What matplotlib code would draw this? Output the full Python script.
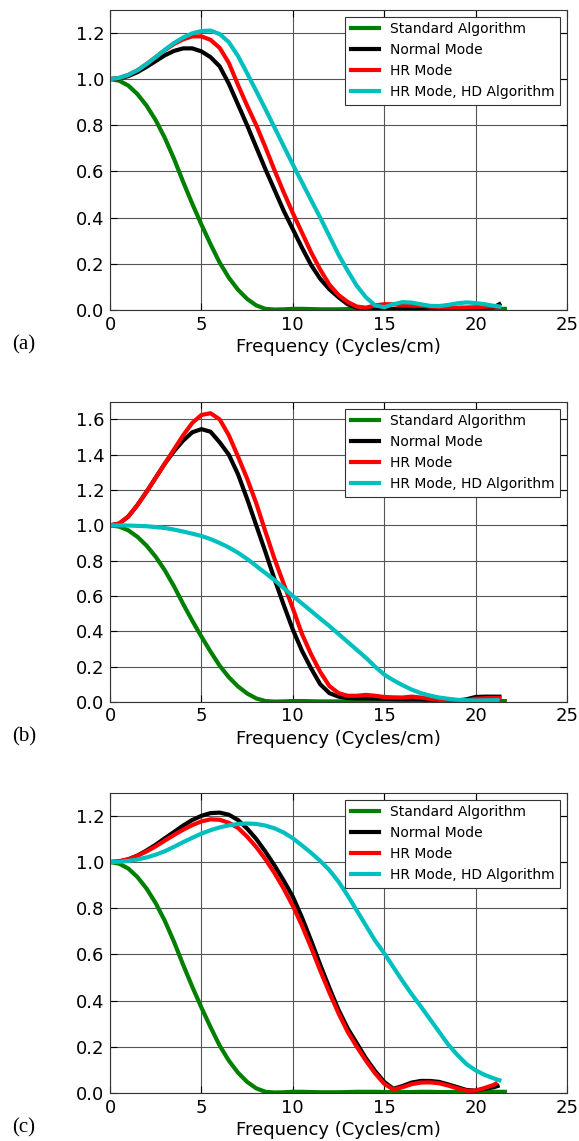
import matplotlib
matplotlib.use("Agg")
import matplotlib.pyplot as plt
from matplotlib.ticker import FormatStrFormatter

# sample grid, cycles/cm
freq = [0, 0.5, 1, 1.5, 2, 2.5, 3, 3.5, 4, 4.5,
        5, 5.5, 6, 6.5, 7, 7.5, 8, 8.5, 9, 9.5,
        10, 10.5, 11, 11.5, 12, 12.5, 13, 13.5, 14, 14.5,
        15, 15.5, 16, 16.5, 17, 17.5, 18, 18.5, 19, 19.5,
        20, 20.5, 21]

labels = ["Standard Algorithm", "Normal Mode", "HR Mode", "HR Mode, HD Algorithm"]
colors = ["#007f00", "black", "#ff0000", "#00bfbf"]

# standard algorithm (same in all three panels)
std_y = [1.0, 0.993, 0.972, 0.935, 0.885, 0.822, 0.745, 0.655, 0.555, 0.46,
         0.37, 0.285, 0.205, 0.14, 0.088, 0.048, 0.02, 0.005, 0.002, 0.003,
         0.005, 0.005, 0.004, 0.003, 0.003, 0.003, 0.004, 0.005, 0.005, 0.005,
         0.004, 0.004, 0.004, 0.004, 0.005, 0.005, 0.004, 0.004, 0.004, 0.004,
         0.005, 0.005, 0.005]
std_end = (21.6, 0.005)

# panel (a)
a_normal = [1.0, 1.003, 1.013, 1.03, 1.053, 1.078, 1.103, 1.122, 1.133, 1.133,
            1.12, 1.095, 1.055, 0.98, 0.89, 0.8, 0.705, 0.61, 0.52, 0.43,
            0.35, 0.27, 0.195, 0.135, 0.09, 0.055, 0.025, 0.01, 0.005, 0.004,
            0.004, 0.004, 0.005, 0.006, 0.006, 0.006, 0.005, 0.004, 0.004, 0.005,
            0.006, 0.009, 0.012]
a_normal_end = (21.3, 0.025)
a_hr = [1.0, 1.005, 1.018, 1.038, 1.065, 1.095, 1.125, 1.152, 1.172, 1.185,
        1.185, 1.17, 1.135, 1.07, 0.975, 0.885, 0.8, 0.705, 0.605, 0.51,
        0.42, 0.335, 0.25, 0.175, 0.11, 0.065, 0.035, 0.015, 0.01, 0.02,
        0.025, 0.025, 0.02, 0.019, 0.018, 0.015, 0.012, 0.011, 0.01, 0.011,
        0.012, 0.014, 0.015]
a_hr_end = (21.2, 0.015)
a_hd = [1.0, 1.005, 1.018, 1.038, 1.065, 1.095, 1.127, 1.156, 1.18, 1.198,
        1.208, 1.21, 1.195, 1.16, 1.1, 1.025, 0.948, 0.87, 0.79, 0.71,
        0.63, 0.553, 0.476, 0.4, 0.32, 0.24, 0.17, 0.105, 0.055, 0.02,
        0.012, 0.025, 0.034, 0.032, 0.025, 0.018, 0.017, 0.022, 0.029, 0.033,
        0.03, 0.025, 0.018]
a_hd_end = (21.3, 0.015)

# panel (b)
b_normal = [1.0, 1.01, 1.05, 1.115, 1.19, 1.27, 1.35, 1.42, 1.48, 1.527,
            1.545, 1.53, 1.47, 1.4, 1.29, 1.15, 1.0, 0.85, 0.695, 0.55,
            0.41, 0.29, 0.19, 0.1, 0.05, 0.03, 0.022, 0.02, 0.02, 0.019,
            0.018, 0.016, 0.015, 0.015, 0.015, 0.012, 0.01, 0.009, 0.008, 0.015,
            0.028, 0.03, 0.03]
b_normal_end = (21.3, 0.03)
b_hr = [1.0, 1.01, 1.05, 1.115, 1.19, 1.27, 1.35, 1.43, 1.51, 1.58,
        1.625, 1.635, 1.6, 1.51, 1.39, 1.265, 1.125, 0.965, 0.81, 0.67,
        0.53, 0.385, 0.27, 0.17, 0.09, 0.05, 0.035, 0.035, 0.04, 0.035,
        0.028, 0.026, 0.025, 0.03, 0.025, 0.018, 0.012, 0.008, 0.005, 0.008,
        0.018, 0.021, 0.022]
b_hr_end = (21.3, 0.022)
b_hd = [1.0, 1.0, 0.999, 0.997, 0.995, 0.99, 0.985, 0.976, 0.965, 0.953,
        0.94, 0.922, 0.9, 0.875, 0.845, 0.81, 0.77, 0.73, 0.69, 0.645,
        0.6, 0.558, 0.515, 0.472, 0.43, 0.385, 0.34, 0.295, 0.25, 0.2,
        0.155, 0.123, 0.095, 0.07, 0.05, 0.036, 0.025, 0.018, 0.012, 0.01,
        0.008, 0.009, 0.01]
b_hd_end = (21.2, 0.01)

# panel (c)
c_normal = [1.0, 1.003, 1.012, 1.028, 1.05, 1.075, 1.103, 1.13, 1.158, 1.182,
            1.2, 1.212, 1.214, 1.205, 1.182, 1.145, 1.1, 1.045, 0.985, 0.92,
            0.85, 0.76, 0.66, 0.555, 0.455, 0.36, 0.28, 0.215, 0.15, 0.095,
            0.048, 0.018, 0.03, 0.045, 0.052, 0.052, 0.048, 0.037, 0.025, 0.013,
            0.01, 0.018, 0.025]
c_normal_end = (21.2, 0.03)
c_hr = [1.0, 1.003, 1.012, 1.027, 1.046, 1.068, 1.093, 1.117, 1.14, 1.16,
        1.176, 1.185, 1.183, 1.17, 1.148, 1.11, 1.065, 1.012, 0.952, 0.885,
        0.81, 0.725, 0.63, 0.53, 0.435, 0.345, 0.265, 0.2, 0.14, 0.085,
        0.04, 0.015, 0.025, 0.038, 0.045, 0.046, 0.042, 0.032, 0.02, 0.01,
        0.01, 0.022, 0.035]
c_hr_end = (21.1, 0.04)
c_hd = [1.0, 1.001, 1.005, 1.011, 1.02, 1.032, 1.047, 1.066, 1.086, 1.105,
        1.123, 1.138, 1.15, 1.159, 1.165, 1.167, 1.165, 1.158, 1.146, 1.128,
        1.103, 1.072, 1.04, 1.005, 0.965, 0.915, 0.855, 0.79, 0.725, 0.66,
        0.605, 0.545, 0.485, 0.428, 0.375, 0.32, 0.265, 0.21, 0.165, 0.125,
        0.098, 0.078, 0.063]
c_hd_end = (21.3, 0.055)

panels = [
    ("(a)", 1.3, [0.0, 0.2, 0.4, 0.6, 0.8, 1.0, 1.2],
     [(std_y, std_end), (a_normal, a_normal_end), (a_hr, a_hr_end), (a_hd, a_hd_end)]),
    ("(b)", 1.7, [0.0, 0.2, 0.4, 0.6, 0.8, 1.0, 1.2, 1.4, 1.6],
     [(std_y, std_end), (b_normal, b_normal_end), (b_hr, b_hr_end), (b_hd, b_hd_end)]),
    ("(c)", 1.3, [0.0, 0.2, 0.4, 0.6, 0.8, 1.0, 1.2],
     [(std_y, std_end), (c_normal, c_normal_end), (c_hr, c_hr_end), (c_hd, c_hd_end)]),
]
xticks = [0, 5, 10, 15, 20, 25]

fig = plt.figure(figsize=(5.79, 11.41), dpi=100)
bottoms = [0.7283, 0.3848, 0.0421]
label_y = [345, 737, 1128]

for i, (tag, ytop, yticks, series) in enumerate(panels):
    ax = fig.add_axes([0.19, bottoms[i], 0.7893, 0.2631])
    for (ys, end), lab, col in zip(series, labels, colors):
        ax.plot(freq + [end[0]], ys + [end[1]], color=col, lw=3, label=lab)
    ax.set_xlim(0, 25)
    ax.set_ylim(0, ytop)
    ax.set_xticks(xticks)
    ax.set_yticks(yticks)
    ax.yaxis.set_major_formatter(FormatStrFormatter('%.1f'))
    ax.grid(True, color='#555555', linestyle='-', linewidth=0.8)
    ax.tick_params(direction='in', top=True, right=True, length=5,
                   labelsize=13, pad=4)
    for sp in ax.spines.values():
        sp.set_color('#333333')
        sp.set_linewidth(0.8)
    ax.set_xlabel("Frequency (Cycles/cm)", fontsize=13, labelpad=3)
    leg = ax.legend(loc='upper right', fontsize=10, fancybox=False,
                    framealpha=1, edgecolor='#333333')
    leg.get_frame().set_linewidth(0.8)
    fig.text(12 / 579, 1 - label_y[i] / 1141, tag, fontsize=15,
             family='Liberation Serif', va='center', ha='left')

fig.savefig("out.png", dpi=100)
